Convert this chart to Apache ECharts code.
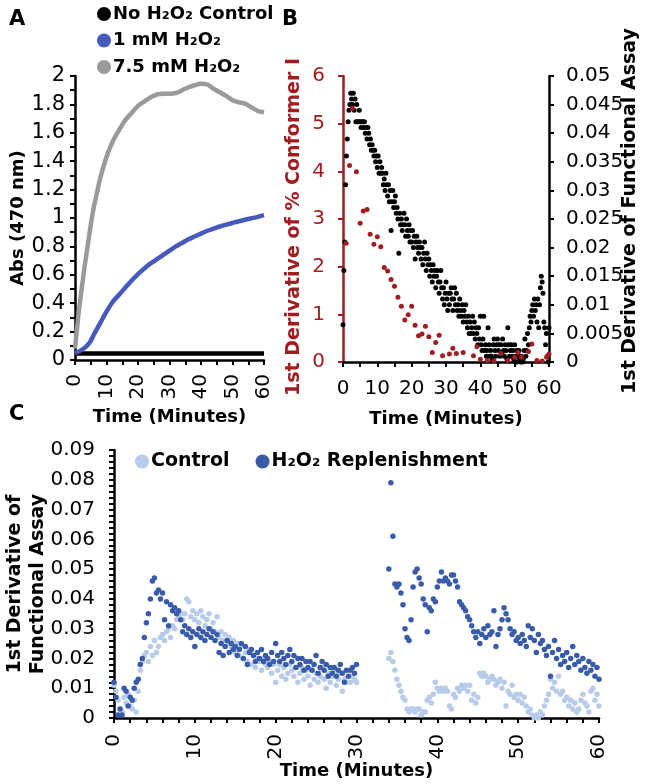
<!DOCTYPE html>
<html><head><meta charset="utf-8">
<script src="https://cdn.jsdelivr.net/npm/echarts@6/dist/echarts.min.js"></script>
<style>html,body{margin:0;padding:0;background:#fff}#c{width:645px;height:784px}</style>
</head><body><div id="c"></div><script>
// ---------- Panel A (absorbance curves) ----------
const aTime = [0,1,2,3,4,5,6,7,8,10,12,14,16,18,20,22,24,26,28,30,32,34,36,38,40,42,44,46,48,50,52,54,56,58,60];
const aControl = [0.045,0.045,0.045,0.045,0.045,0.045,0.045,0.045,0.045,0.045,0.045,0.045,0.045,0.045,0.045,0.045,0.045,0.045,0.045,0.045,0.045,0.045,0.045,0.045,0.045,0.045,0.045,0.045,0.045,0.045,0.045,0.045,0.045,0.045,0.045];
const aOneMM = [0.05,0.058,0.07,0.085,0.105,0.135,0.18,0.22,0.26,0.34,0.41,0.46,0.51,0.56,0.605,0.645,0.68,0.71,0.74,0.77,0.80,0.825,0.85,0.87,0.89,0.91,0.925,0.94,0.953,0.965,0.977,0.988,0.998,1.008,1.02];
const aSevenMM = [0.08,0.3,0.48,0.65,0.8,0.95,1.08,1.18,1.28,1.43,1.54,1.62,1.69,1.74,1.79,1.82,1.85,1.87,1.875,1.875,1.88,1.90,1.92,1.935,1.945,1.94,1.91,1.885,1.86,1.83,1.815,1.805,1.78,1.755,1.745];

// ---------- Panel B ----------
const bConfT = [0.9,1.9,2.7,3.9,5,5.9,7,7.9,9,10,11,12,13,14,15,16,17,18,19,20,21,22,23,24,25,26,27,28,29,31,32,33,35,38,39,40,42,44,46,48,50,51,52,54,55,56.5,58,59.3,60];
const bConfV = [2.49,4.12,5.32,3.99,2.91,3.17,3.2,2.68,2.47,2.63,2.42,1.98,1.91,1.73,1.59,1.36,1.17,0.88,0.99,1.17,0.77,0.55,0.59,0.75,0.53,0.2,0.41,0.56,0.13,0.17,0.29,0.18,0.2,0.13,0.32,0.06,0.03,0.02,0.18,0.03,0.1,0.2,0.1,0.22,0.38,0.03,0.02,0.1,0.17];
const bFuncStep = 0.25; // minutes between functional-assay readings
const bFunc = [
0.0065,0.016,0.021,0.031, 0.036,0.039,0.042,0.044, 0.045,0.047,0.046,0.045, 0.047,0.044,0.046,0.042,
0.045,0.042,0.042,0.044, 0.042,0.041,0.042,0.042, 0.041,0.042,0.040,0.041, 0.039,0.041,0.040,0.038,
0.039,0.037,0.038,0.037, 0.036,0.037,0.035,0.036, 0.034,0.036,0.033,0.035, 0.033,0.034,0.033,0.031,
0.032,0.030,0.033,0.031, 0.029,0.031,0.028,0.030, 0.023,0.028,0.030,0.027, 0.028,0.029,0.026,0.027,
0.025,0.019,0.026,0.024, 0.025,0.023,0.024,0.026, 0.024,0.022,0.025,0.023, 0.022,0.024,0.021,0.023,
0.021,0.023,0.020,0.022, 0.018,0.021,0.022,0.020, 0.019,0.021,0.020,0.018, 0.020,0.017,0.019,0.021,
0.018,0.016,0.019,0.017, 0.018,0.015,0.017,0.016, 0.014,0.017,0.015,0.016, 0.013,0.015,0.016,0.014,
0.012,0.014,0.016,0.013, 0.011,0.013,0.010,0.012, 0.014,0.011,0.009,0.012, 0.010,0.012,0.013,0.011,
0.009,0.011,0.013,0.010, 0.012,0.009,0.010,0.008, 0.011,0.009,0.008,0.010, 0.007,0.009,0.008,0.010,
0.007,0.006,0.008,0.005, 0.007,0.005,0.006,0.008, 0.005,0.007,0.004,0.006, 0.005,0.003,0.006,0.004,
0.008,0.003,0.002,0.004, 0.008,0.002,0.003,0.001, 0.002,0.006,0.003,0.001, 0.002,0.001,0.0005,0.003,
0.004,0.002,0.001,0.003, 0.004,0.002,0.003,0.001, 0.003,0.0015,0.004,0.002, 0.001,0.003,0.002,0.0005,
0.006,0.003,0.001,0.002, 0.003,0.001,0.002,0.0005, 0.003,0.001,0.002,0.0, 0.001,0.002,0.0005,0.0,
0.001,0.0,0.0005,0.002, 0.004,0.001,0.002,0.005, 0.003,0.006,0.008,0.007, 0.009,0.010,0.008,0.011,
0.009,0.010,0.007,0.011, 0.006,0.010,0.013,0.015, 0.014,0.012,0.007,0.006, 0.003,0.005,0.001,0.0,
0.006];

// ---------- Panel C ----------
const cStep = 0.25;
const cStart1 = 0, cStart2 = 34;
const cH2O2First = [
0.012,0.007,0.001,0.003, 0.001,0.010,0.009,0.004, 0.007,0.006,0.010,0.012, 0.013,0.018,0.020,0.027,
0.032,0.035,0.040,0.046, 0.047,0.042,0.043,0.040, 0.042,0.033,0.039,0.031, 0.038,0.036,0.037,0.035,
0.036,0.033,0.029,0.031, 0.028,0.030,0.027,0.029, 0.024,0.028,0.030,0.027, 0.029,0.026,0.028,0.030,
0.027,0.029,0.026,0.028, 0.022,0.025,0.021,0.024, 0.026,0.022,0.025,0.023, 0.024,0.021,0.023,0.025,
0.020,0.024,0.018,0.022, 0.023,0.021,0.019,0.022, 0.020,0.023,0.019,0.021, 0.020,0.018,0.022,0.019,
0.025,0.021,0.019,0.022, 0.020,0.018,0.021,0.023, 0.019,0.021,0.017,0.020, 0.018,0.020,0.016,0.019,
0.017,0.019,0.016,0.018, 0.021,0.015,0.017,0.019, 0.016,0.018,0.014,0.017, 0.015,0.017,0.014,0.016,
0.018,0.015,0.012,0.016, 0.014,0.016,0.017,0.015, 0.018];
const cH2O2Second = [
0.050,0.079,0.061,0.045, 0.044,0.045,0.042,0.038, 0.030,0.027,0.026,0.033, 0.044,0.049,0.050,0.047,
0.045,0.040,0.038,0.029, 0.037,0.036,0.040,0.039, 0.044,0.046,0.049,0.046, 0.047,0.046,0.045,0.048,
0.048,0.046,0.044,0.039, 0.038,0.037,0.036,0.034, 0.033,0.031,0.029,0.027, 0.029,0.025,0.028,0.030,
0.027,0.031,0.028,0.029, 0.036,0.024,0.028,0.030, 0.033,0.037,0.035,0.033, 0.030,0.028,0.029,0.026,
0.027,0.025,0.028,0.026, 0.024,0.031,0.027,0.030, 0.026,0.022,0.028,0.025, 0.026,0.023,0.021,0.024,
0.014,0.022,0.026,0.020, 0.023,0.018,0.021,0.019, 0.022,0.017,0.020,0.024, 0.018,0.021,0.019,0.016,
0.020,0.017,0.015,0.019, 0.016,0.018,0.014,0.017, 0.013];
const cControlFirst = [
0.011,0.009,0.006,0.003, 0.002,0.007,0.005,0.008, 0.004,0.003,0.006,0.002, 0.009,0.016,0.019,0.021,
0.022,0.019,0.024,0.021, 0.026,0.022,0.024,0.027, 0.028,0.026,0.029,0.030, 0.027,0.031,0.030,0.033,
0.034,0.035,0.033,0.035, 0.040,0.039,0.034,0.036, 0.033,0.035,0.032,0.036, 0.034,0.031,0.033,0.035,
0.030,0.032,0.029,0.034, 0.027,0.029,0.026,0.028, 0.025,0.027,0.024,0.026, 0.022,0.025,0.021,0.024,
0.020,0.022,0.019,0.023, 0.018,0.021,0.017,0.020, 0.019,0.016,0.020,0.018, 0.017,0.019,0.015,0.018,
0.012,0.016,0.018,0.014, 0.017,0.013,0.015,0.018, 0.016,0.014,0.017,0.012, 0.015,0.017,0.013,0.016,
0.014,0.011,0.016,0.013, 0.015,0.012,0.014,0.017, 0.013,0.010,0.015,0.012, 0.014,0.016,0.011,0.013,
0.015,0.009,0.013,0.012, 0.016,0.012,0.014,0.013, 0.012];
const cControlSecond = [
0.020,0.022,0.019,0.016, 0.013,0.011,0.009,0.007, 0.006,0.003,0.002,0.003, 0.003,0.002,0.003,0.003,
0.001,0.002,0.002,0.006, 0.007,0.005,0.008,0.012, 0.010,0.009,0.010,0.009, 0.010,0.009,0.004,0.003,
0.008,0.007,0.010,0.009, 0.011,0.010,0.011,0.009, 0.011,0.006,0.008,0.005, 0.007,0.015,0.014,0.015,
0.014,0.012,0.013,0.014, 0.013,0.011,0.012,0.013, 0.010,0.012,0.004,0.009, 0.008,0.011,0.007,0.008,
0.006,0.008,0.005,0.007, 0.004,0.002,0.003,0.001, 0.0,0.001,0.0,0.002, 0.001,0.004,0.006,0.008,
0.013,0.010,0.012,0.009, 0.014,0.008,0.009,0.006, 0.007,0.004,0.006,0.003, 0.005,0.002,0.003,0.006,
0.008,0.005,0.004,0.002, 0.009,0.010,0.006,0.008, 0.004];

// ---------- helpers ----------
const FONT = 'DejaVu Sans';
const pair = (xs, ys) => ys.map((v, i) => [xs[i], v]);
const sampled = (start, step, ys) => ys.map((v, i) => [start + i * step, v]);
const C_DARK = '#3a5ca8', C_LIGHT = '#b8cbe9', RED = '#a11d22';

function valueAxis(o) {
  const color = o.color || '#000';
  const base = {
    type: 'value', splitLine: { show: false },
    axisLine: { show: true, onZero: false, lineStyle: { color, width: 2.5 } },
    axisTick: { show: true, length: 5, lineStyle: { color, width: 2 } },
    nameLocation: 'middle', nameMoveOverlap: false
  };
  const ex = o.extra;
  base.axisLabel = Object.assign({ color, fontSize: 20, fontFamily: FONT, margin: 10 }, ex.axisLabel || {});
  base.nameTextStyle = Object.assign({ color, fontSize: 18, fontWeight: 'bold', fontFamily: FONT }, ex.nameTextStyle || {});
  delete ex.axisLabel; delete ex.nameTextStyle;
  return Object.assign(base, ex);
}
const minor = (n) => ({ show: true, splitNumber: n, length: 5, lineStyle: { color: '#000', width: 2 } });
const panelLabel = (t, x, y) => ({ text: t, left: x, top: y, textStyle: { fontSize: 21, fontWeight: 'bold', fontFamily: FONT, color: '#000' } });

const option = {
  animation: false,
  backgroundColor: '#fff',
  textStyle: { fontFamily: FONT },
  title: [panelLabel('A', 4, 4), panelLabel('B', 277, 4), panelLabel('C', 4, 399)],
  legend: [
    { data: ['No H₂O₂ Control', '1 mM H₂O₂', '7.5 mM H₂O₂'], orient: 'vertical', left: 97, top: 5, padding: 0,
      icon: 'circle', itemWidth: 14, itemHeight: 14, itemGap: 8.5,
      textStyle: { fontSize: 18, fontWeight: 'bold', fontFamily: FONT, color: '#000', padding: [0,0,0,-3] } },
    { data: ['Control', 'H₂O₂ Replenishment'], orient: 'horizontal', left: 130, top: 447,
      icon: 'circle', itemWidth: 14, itemHeight: 14, itemGap: 26,
      textStyle: { fontSize: 19, fontWeight: 'bold', fontFamily: FONT, color: '#000', padding: [0,0,0,-3] } }
  ],
  grid: [
    { left: 75, right: 381, top: 76, bottom: 424, outerBoundsMode: 'none', containLabel: false },
    { left: 343, right: 96, top: 76, bottom: 422, outerBoundsMode: 'none', containLabel: false },
    { left: 114, right: 46, top: 450, bottom: 66, outerBoundsMode: 'none', containLabel: false }
  ],
  xAxis: [
    valueAxis({ extra: { gridIndex: 0, min: 0, max: 60, interval: 10, minorTick: minor(2),
      axisLabel: { rotate: 90, margin: 14 },
      name: 'Time (Minutes)', nameGap: 48 } }),
    valueAxis({ extra: { gridIndex: 1, min: 0, max: 60, interval: 10, minorTick: minor(2),
      axisLabel: { margin: 17 },
      name: 'Time (Minutes)', nameGap: 48 } }),
    valueAxis({ extra: { gridIndex: 2, min: 0, max: 60, interval: 10, minorTick: minor(5),
      axisLabel: { rotate: 90, margin: 16 },
      name: 'Time (Minutes)', nameGap: 44 } })
  ],
  yAxis: [
    valueAxis({ extra: { gridIndex: 0, min: 0, max: 2, interval: 0.2, minorTick: minor(2),
      axisLabel: { fontSize: 21, margin: 10 },
      name: 'Abs (470 nm)', nameGap: 48, nameRotate: 90 } }),
    valueAxis({ color: RED, extra: { gridIndex: 1, min: 0, max: 6, interval: 1, position: 'left',
      axisLabel: { margin: 18 },
      name: '1st Derivative of % Conformer I', nameGap: 39, nameRotate: 90,
      nameTextStyle: { fontSize: 19, padding: [0, 16, 0, 0] } } }),
    valueAxis({ extra: { gridIndex: 1, min: 0, max: 0.05, interval: 0.005, position: 'right',
      axisLabel: { margin: 17 },
      name: '1st Derivative of Functional Assay', nameGap: 72, nameRotate: 90,
      nameTextStyle: { fontSize: 19, padding: [0, 0, 0, 16] } } }),
    valueAxis({ extra: { gridIndex: 2, min: 0, max: 0.09, interval: 0.01, minorTick: minor(5),
      axisLabel: { margin: 19 },
      name: '1st Derivative of\nFunctional Assay', nameGap: 64, nameRotate: 90,
      nameTextStyle: { fontSize: 19, lineHeight: 23 } } })
  ],
  series: [
    { name: 'No H₂O₂ Control', type: 'line', xAxisIndex: 0, yAxisIndex: 0, data: pair(aTime, aControl),
      showSymbol: false, color: '#000', lineStyle: { width: 4.5, color: '#000' } },
    { name: '1 mM H₂O₂', type: 'line', xAxisIndex: 0, yAxisIndex: 0, data: pair(aTime, aOneMM), smooth: 0.3,
      showSymbol: false, color: '#4759bd', lineStyle: { width: 4.5, color: '#4759bd' } },
    { name: '7.5 mM H₂O₂', type: 'line', xAxisIndex: 0, yAxisIndex: 0, data: pair(aTime, aSevenMM), smooth: 0.3,
      showSymbol: false, color: '#9a9a9a', lineStyle: { width: 4.5, color: '#9a9a9a' } },
    { name: 'Functional', type: 'scatter', xAxisIndex: 1, yAxisIndex: 2, data: sampled(0, bFuncStep, bFunc),
      symbolSize: 5, itemStyle: { color: '#000', opacity: 1 } },
    { name: 'Conformer', type: 'scatter', xAxisIndex: 1, yAxisIndex: 1, data: pair(bConfT, bConfV),
      symbolSize: 5, itemStyle: { color: RED, opacity: 1 } },
    { name: 'Control', type: 'scatter', xAxisIndex: 2, yAxisIndex: 3,
      data: sampled(cStart1, cStep, cControlFirst).concat(sampled(cStart2, cStep, cControlSecond)),
      symbolSize: 5.5, color: C_LIGHT, itemStyle: { color: C_LIGHT, opacity: 1 } },
    { name: 'H₂O₂ Replenishment', type: 'scatter', xAxisIndex: 2, yAxisIndex: 3,
      data: sampled(cStart1, cStep, cH2O2First).concat(sampled(cStart2, cStep, cH2O2Second)),
      symbolSize: 5.5, color: C_DARK, itemStyle: { color: C_DARK, opacity: 1 } }
  ]
};
const chart = echarts.init(document.getElementById('c'), null, { renderer: 'canvas' });
chart.setOption(option);
</script></body></html>
